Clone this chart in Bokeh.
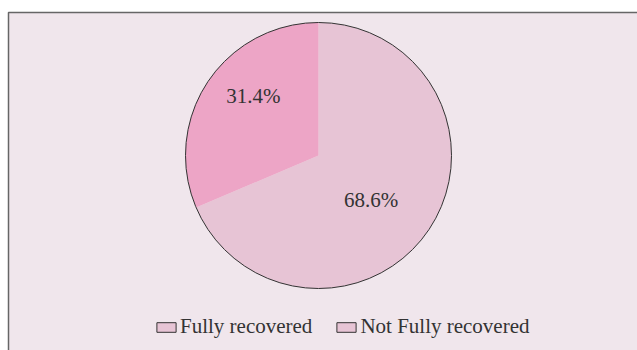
import numpy as np
from bokeh.plotting import figure
from bokeh.models import Range1d, Legend, LegendItem, ColumnDataSource
from bokeh.embed import file_html
from bokeh.resources import INLINE
from bokeh.core.properties import value

# ---- data ----
categories = ["Fully recovered", "Not Fully recovered"]
shares = [68.6, 31.4]
pct_labels = ["68.6%", "31.4%"]
colors = ["#E7C4D5", "#EDA5C6"]
legend_colors = ["#E7C4D5", "#E7C4D5"]   # the reference legend shows both swatches light

# ---- layout / style ----
W, H = 637, 350
BG = "#F0E6EC"
TXT = "#333333"
FONT = "Liberation Serif"
label_radius = [0.52, 0.665]      # fraction of pie radius
label_shift_deg = [-7, -9]        # small angular nudges

p = figure(width=W, height=H, x_range=Range1d(0, W), y_range=Range1d(0, H),
           output_backend="svg", toolbar_location=None, min_border=0)
p.axis.visible = False
p.grid.visible = False
p.outline_line_color = None
p.background_fill_color = "white"
p.border_fill_color = "white"

# chart area frame (its right/bottom edges lie outside the view)
p.quad(left=8, right=W + 20, bottom=-20, top=H - 12,
       fill_color=BG, line_color="#666666", line_width=1.5)

cx, cy, rad = 318, H - 155, 133
frac = np.array(shares) / sum(shares)
cum = np.concatenate([[0.0], np.cumsum(frac)])
end_ang = np.pi / 2 - cum[:-1] * 2 * np.pi
start_ang = np.pi / 2 - cum[1:] * 2 * np.pi

src = ColumnDataSource(dict(cat=categories, start=start_ang, end=end_ang,
                            color=colors, lcolor=legend_colors))

# renderer that only supplies the legend swatches (zero radius, hidden under the pie)
leg_r = p.wedge(x=cx, y=cy, radius=0, start_angle="start", end_angle="end",
                fill_color="lcolor", line_color=TXT, line_width=1, source=src)
# visible slices without separating lines
p.wedge(x=cx, y=cy, radius=rad, start_angle="start", end_angle="end",
        fill_color="color", line_color=None, source=src)
# pie outline
p.circle(x=cx, y=cy, radius=rad, fill_color=None, line_color=TXT, line_width=1)

mid = (start_ang + end_ang) / 2 + np.radians(label_shift_deg)
lx = cx + np.array(label_radius) * rad * np.cos(mid)
ly = cy + np.array(label_radius) * rad * np.sin(mid)
p.text(x=lx, y=ly, text=pct_labels, text_font=value(FONT), text_font_size="21px",
       text_align="center", text_baseline="middle", text_color=TXT)

legend = Legend(items=[LegendItem(label=c, renderers=[leg_r], index=i) for i, c in enumerate(categories)],
                orientation="horizontal", location=(154, 11),
                label_text_font=FONT, label_text_font_size="21px", label_text_color=TXT,
                glyph_width=24, glyph_height=12, label_standoff=2, spacing=22,
                padding=0, margin=0, background_fill_alpha=0, border_line_color=None)
p.add_layout(legend)

open("out.html", "w").write(file_html(p, INLINE))
